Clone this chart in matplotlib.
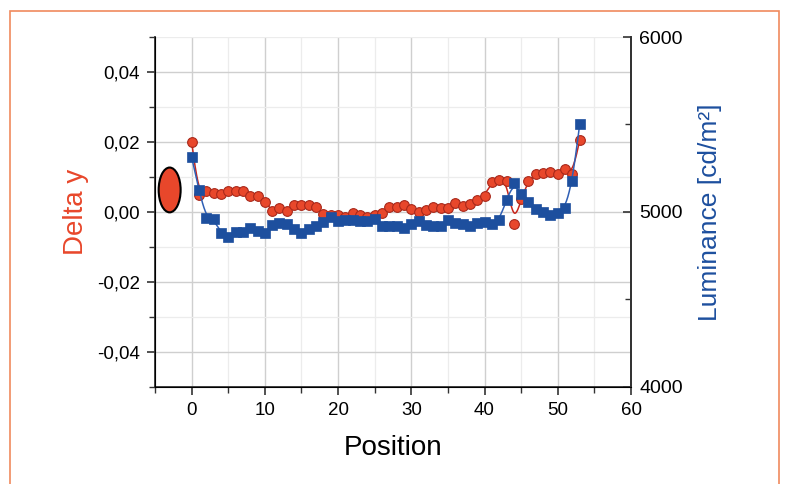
"""
Delta y and luminance along the panel positions (recreated chart).
"""

import numpy as np
import matplotlib
matplotlib.use("Agg")
import matplotlib.pyplot as plt
from matplotlib.patches import Ellipse, Rectangle
from matplotlib.ticker import MultipleLocator, FuncFormatter

plt.rcParams["font.family"] = ["Liberation Sans", "DejaVu Sans"]

# ── data ──────────────────────────────────────────────────────────────────────
position = np.arange(54)

delta_y = [
    0.0200, 0.0049, 0.0060, 0.0054, 0.0051, 0.0060, 0.0060, 0.0060, 0.0046, 0.0046,
    0.0029, 0.0003, 0.0011, 0.0003, 0.0020, 0.0020, 0.0020, 0.0014, -0.0006, -0.0009,
    -0.0009, -0.0014, -0.0003, -0.0009, -0.0014, -0.0009, -0.0003, 0.0014, 0.0014, 0.0020,
    0.0009, 0.0000, 0.0006, 0.0014, 0.0011, 0.0011, 0.0026, 0.0017, 0.0023, 0.0034,
    0.0046, 0.0086, 0.0091, 0.0089, -0.0034, 0.0037, 0.0089, 0.0109, 0.0111, 0.0114,
    0.0109, 0.0123, 0.0109, 0.0206,
]

luminance = [
    5314, 5126, 4966, 4960, 4880, 4857, 4886, 4886, 4909, 4891,
    4880, 4926, 4937, 4931, 4903, 4880, 4903, 4920, 4943, 4971,
    4949, 4954, 4954, 4949, 4949, 4960, 4920, 4920, 4920, 4909,
    4931, 4949, 4926, 4920, 4920, 4954, 4937, 4931, 4920, 4937,
    4943, 4931, 4954, 5069, 5166, 5103, 5057, 5017, 5000, 4983,
    4994, 5023, 5177, 5503,
]

RED = "#e8472b"
RED_LINE = "#c8261c"
BLUE = "#1d4f9e"
BLUE_LINE = "#2f5fb5"


def bspline(x, y, n=16):
    """Clamped uniform cubic B-spline with the points as control points."""
    px = np.r_[[x[0]] * 2, x, [x[-1]] * 2].astype(float)
    py = np.r_[[y[0]] * 2, y, [y[-1]] * 2].astype(float)
    t = np.linspace(0, 1, n, endpoint=False)
    b0 = (1 - t) ** 3 / 6
    b1 = (3 * t**3 - 6 * t**2 + 4) / 6
    b2 = (-3 * t**3 + 3 * t**2 + 3 * t + 1) / 6
    b3 = t**3 / 6
    xs, ys = [], []
    for i in range(len(px) - 3):
        xs.append(b0 * px[i] + b1 * px[i + 1] + b2 * px[i + 2] + b3 * px[i + 3])
        ys.append(b0 * py[i] + b1 * py[i + 1] + b2 * py[i + 2] + b3 * py[i + 3])
    xs.append([x[-1]])
    ys.append([y[-1]])
    return np.concatenate(xs), np.concatenate(ys)


fig = plt.figure(figsize=(7.87, 4.84), dpi=100)
ax = fig.add_axes([155 / 787, 1 - 387 / 484, 476 / 787, 350 / 484])

# orange frame around the figure
fig.patches.append(Rectangle((10 / 787, -0.05), 769 / 787, 1 - 11 / 484 + 0.05,
                             transform=fig.transFigure, fill=False,
                             edgecolor="#f08a5d", linewidth=1.2))

# ── left axis: Delta y ────────────────────────────────────────────────────────
sx, sy = bspline(position, delta_y)
ax.plot(sx, sy, color=RED_LINE, linewidth=1.1, zorder=3)
ax.plot(position, delta_y, "o", ms=7, mfc=RED, mec="#a8281a", mew=0.8, zorder=4)

ax.add_patch(Ellipse((-3.0, 0.0063), 3.0, 0.0128, facecolor=RED,
                     edgecolor="black", linewidth=1.5, zorder=5))

ax.set_xlim(-5, 60)
ax.set_ylim(-0.05, 0.05)
ax.xaxis.set_major_locator(MultipleLocator(10))
ax.xaxis.set_minor_locator(MultipleLocator(5))
ax.yaxis.set_major_locator(MultipleLocator(0.02))
ax.yaxis.set_minor_locator(MultipleLocator(0.01))
ax.yaxis.set_major_formatter(FuncFormatter(lambda v, p: f"{v:.2f}".replace(".", ",").replace("-0,00", "0,00")))

ax.grid(which="major", color="#cfcfcf", linewidth=1.0)
ax.grid(which="minor", color="#ececec", linewidth=0.9)
ax.set_axisbelow(True)

for s in ("left", "bottom", "right"):
    ax.spines[s].set_color("#333333")
    ax.spines[s].set_linewidth(1.3)
ax.spines["top"].set_visible(False)

ax.tick_params(which="major", direction="out", length=6, width=1.2, color="#333333",
               labelsize=13.5, pad=5)
ax.tick_params(which="minor", direction="out", length=4, width=1.0, color="#333333")

ax.set_xlabel("Position", fontsize=20)
ax.xaxis.set_label_coords(0.5, -0.174)
ax.xaxis.label.set_va("center")
ax.set_ylabel("Delta y", fontsize=20, color=RED, va="center")
ax.yaxis.set_label_coords(-0.165, 0.5)

# ── right axis: Luminance ─────────────────────────────────────────────────────
ax2 = ax.twinx()
lx, ly = bspline(position, luminance)
ax2.plot(lx, ly, color=BLUE_LINE, linewidth=1.1, zorder=3)
ax2.plot(position, luminance, "s", ms=6.5, mfc=BLUE, mec=BLUE, mew=0.5, zorder=4)

ax2.set_ylim(4000, 6000)
ax2.yaxis.set_major_locator(MultipleLocator(1000))
ax2.yaxis.set_minor_locator(MultipleLocator(500))
ax2.spines["top"].set_visible(False)
ax2.spines["right"].set_color("#333333")
ax2.spines["right"].set_linewidth(1.3)
ax2.tick_params(which="major", direction="in", length=6, width=1.2, color="#333333",
                labelsize=14, pad=6)
ax2.tick_params(which="minor", direction="in", length=4, width=1.0, color="#333333")
ax2.set_ylabel("Luminance [cd/m²]", fontsize=19, color=BLUE, va="center")
ax2.yaxis.set_label_coords(1.166, 0.5)

fig.savefig("out.png", dpi=100)
